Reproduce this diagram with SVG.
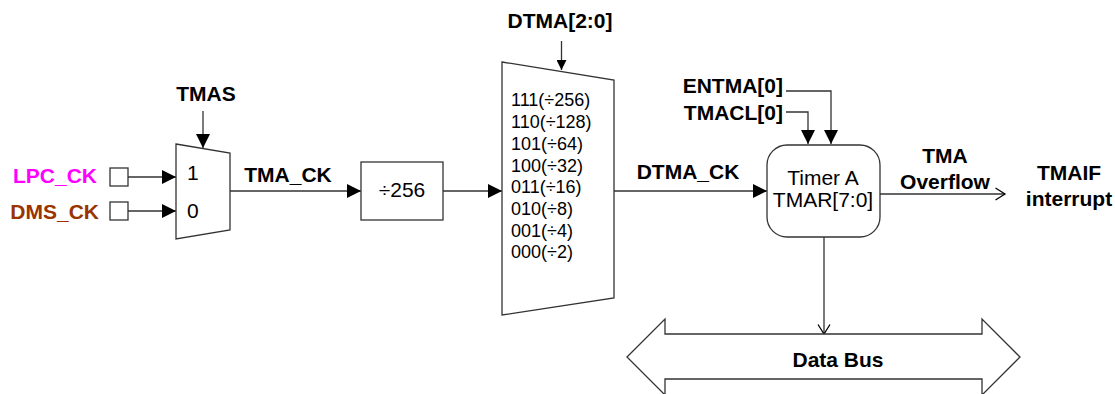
<svg xmlns="http://www.w3.org/2000/svg" width="1115" height="394" viewBox="0 0 1115 394">
<style>
.b{font-family:"Liberation Sans",Arial,sans-serif;font-weight:bold;font-size:21px;fill:#000}
.r{font-family:"Liberation Sans",Arial,sans-serif;font-size:21px;fill:#000}
.s{font-family:"Liberation Sans",Arial,sans-serif;font-size:18px;fill:#000}
.shape{fill:#fff;stroke:#333;stroke-width:1.3}
.ln{fill:none;stroke:#333;stroke-width:1.3}
</style>
<defs>
<marker id="big" markerUnits="userSpaceOnUse" markerWidth="14" markerHeight="14" refX="14" refY="7" orient="auto"><path d="M0,0 L14,7 L0,14 z" fill="#000"/></marker>
<marker id="sm" markerUnits="userSpaceOnUse" markerWidth="10" markerHeight="10" refX="10" refY="5" orient="auto"><path d="M0,0 L10,5 L0,10 z" fill="#000"/></marker>
<marker id="open" markerUnits="userSpaceOnUse" markerWidth="12" markerHeight="14" refX="10.5" refY="7" orient="auto"><path d="M1,1 L10.5,7 L1,13" fill="none" stroke="#000" stroke-width="1.3"/></marker>
</defs>
<g id="connectors">
<line class="ln" x1="128" y1="177" x2="176" y2="177" marker-end="url(#big)"/>
<line class="ln" x1="128" y1="211" x2="176" y2="211" marker-end="url(#big)"/>
<line class="ln" x1="203" y1="111" x2="203" y2="148" marker-end="url(#big)"/>
<line class="ln" x1="230" y1="191" x2="361" y2="191" marker-end="url(#big)"/>
<line class="ln" x1="443" y1="191" x2="502" y2="191" marker-end="url(#big)"/>
<line class="ln" x1="561.5" y1="41" x2="561.5" y2="70" marker-end="url(#sm)"/>
<line class="ln" x1="614" y1="191" x2="767" y2="191" marker-end="url(#big)"/>
<polyline class="ln" points="786,91 831,91 831,144" marker-end="url(#big)"/>
<polyline class="ln" points="786,112 808,112 808,144" marker-end="url(#big)"/>
<line class="ln" x1="880" y1="194" x2="1005" y2="194" marker-end="url(#open)"/>
<line class="ln" x1="824" y1="237" x2="824" y2="334" marker-end="url(#open)"/>
</g>
<g id="lpc_ck">
<rect class="shape" x="110" y="168" width="18" height="18"/>
<text class="b" x="97" y="183" text-anchor="end" style="fill:#FF00FF">LPC_CK</text>
</g>
<g id="dms_ck">
<rect class="shape" x="110" y="202" width="18" height="18"/>
<text class="b" x="99" y="219" text-anchor="end" style="fill:#993300">DMS_CK</text>
</g>
<g id="tmas_label"><text class="b" x="206" y="101" text-anchor="middle">TMAS</text></g>
<g id="mux_clk">
<polygon class="shape" points="176,144 230,153 230,230 176,239"/>
<text class="r" x="187" y="180">1</text>
<text class="r" x="187" y="218">0</text>
</g>
<g id="tma_ck_label"><text class="b" x="288" y="182" text-anchor="middle">TMA_CK</text></g>
<g id="div256">
<rect class="shape" x="361" y="162" width="82" height="58"/>
<text class="r" x="402" y="197" text-anchor="middle">÷256</text>
</g>
<g id="dtma_label"><text class="b" x="560" y="28" text-anchor="middle">DTMA[2:0]</text></g>
<g id="prescaler_mux">
<polygon class="shape" points="502,62 614,80 614,298 502,315"/>
<text class="s" x="511" y="106">111(÷256)</text>
<text class="s" x="511" y="128">110(÷128)</text>
<text class="s" x="511" y="150">101(÷64)</text>
<text class="s" x="511" y="172">100(÷32)</text>
<text class="s" x="511" y="193">011(÷16)</text>
<text class="s" x="511" y="215">010(÷8)</text>
<text class="s" x="511" y="237">001(÷4)</text>
<text class="s" x="511" y="258">000(÷2)</text>
</g>
<g id="dtma_ck_label"><text class="b" x="688" y="179" text-anchor="middle">DTMA_CK</text></g>
<g id="entma_label"><text class="b" x="783" y="93" text-anchor="end">ENTMA[0]</text></g>
<g id="tmacl_label"><text class="b" x="783" y="120" text-anchor="end">TMACL[0]</text></g>
<g id="timer_a">
<rect class="shape" x="767" y="145" width="113" height="92" rx="20" ry="20"/>
<text class="r" x="823" y="185" text-anchor="middle">Timer A</text>
<text class="r" x="823" y="207" text-anchor="middle">TMAR[7:0]</text>
</g>
<g id="overflow_label">
<text class="b" x="945" y="163" text-anchor="middle">TMA</text>
<text class="b" x="945" y="189" text-anchor="middle">Overflow</text>
</g>
<g id="tmaif">
<text class="b" x="1069" y="180" text-anchor="middle">TMAIF</text>
<text class="b" x="1069" y="206" text-anchor="middle">interrupt</text>
</g>
<g id="data_bus">
<polygon class="shape" points="627,357 665,319 665,334 982,334 982,319 1020,357 982,395 982,379 665,379 665,395"/>
<text class="b" x="838" y="367" text-anchor="middle">Data Bus</text>
</g>
</svg>
